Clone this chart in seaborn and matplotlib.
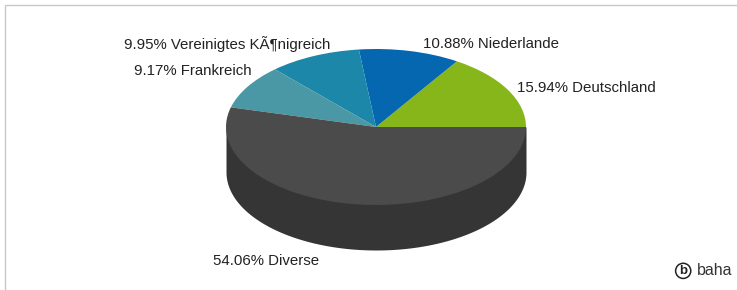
import numpy as np
import seaborn as sns
import matplotlib.pyplot as plt
from matplotlib.patches import Rectangle

# Data
countries = ['Deutschland', 'Niederlande', 'Vereinigtes KÃ¶nigreich',
             'Frankreich', 'Diverse']
shares = [15.94, 10.88, 9.95, 9.17, 54.06]
slice_colors = ['#86b61a', '#0467b0', '#1c87a8', '#4a98a5', '#4b4b4b']
side_color = '#353535'

# label anchors (data units, pie radius = 1) and alignment
label_pos = [(0.94, 0.50), (0.313, 1.064), (-0.307, 1.064), (-0.827, 0.718),
             (-0.38, -1.718)]
label_ha = ['left', 'left', 'right', 'right', 'right']

sns.set_theme(style='white')
plt.rcParams['font.family'] = ['Liberation Sans', 'DejaVu Sans']

fig = plt.figure(figsize=(7.37, 2.90), dpi=100)
ax = fig.add_axes([0, 0, 1, 1])

# pie geometry: 150 px across x radius, 78 px y radius, 45 px depth
rx, ry, depth = 150, 78, 45 / 78
cx, cy = 376, 127

# side of the pie (front half, only Diverse is visible there);
# filled up to the centre line so the top face hides the seam
theta = np.linspace(np.pi, 2 * np.pi, 300)
xs, ys = np.cos(theta), np.sin(theta)
ax.fill_between(xs, ys - depth, 0, color=side_color, lw=0, zorder=1)

wedges, _ = ax.pie(shares, colors=slice_colors, startangle=0,
                   counterclock=True, radius=1, center=(0, 0),
                   wedgeprops=dict(linewidth=0))
for w in wedges:
    w.set_zorder(2)

ax.set_aspect('auto')
ax.set_xlim(-cx / rx, (737 - cx) / rx)
ax.set_ylim(-(290 - cy) / ry, cy / ry)
ax.axis('off')

for name, val, (lx, ly), ha in zip(countries, shares, label_pos, label_ha):
    ax.text(lx, ly, f'{val:.2f}% {name}', ha=ha, va='center',
            fontsize=10.8, color='#222222', zorder=3)

# baha logo
ax.text(0.927, 0.066, 'b', transform=ax.transAxes, ha='center', va='center',
        fontsize=9.5, fontweight='bold', color='#222222',
        bbox=dict(boxstyle='circle,pad=0.12', fc='white', ec='#222222', lw=1.1))
ax.text(0.945, 0.066, 'baha', transform=ax.transAxes, ha='left', va='center',
        fontsize=11.5, color='#333333')

# light frame
fig.add_artist(Rectangle((5 / 737, -0.1), 1.1, 1.1 - 5 / 290,
                         transform=fig.transFigure, fill=False,
                         ec='#c8c8c8', lw=1))

fig.savefig('out.png', dpi=100)
